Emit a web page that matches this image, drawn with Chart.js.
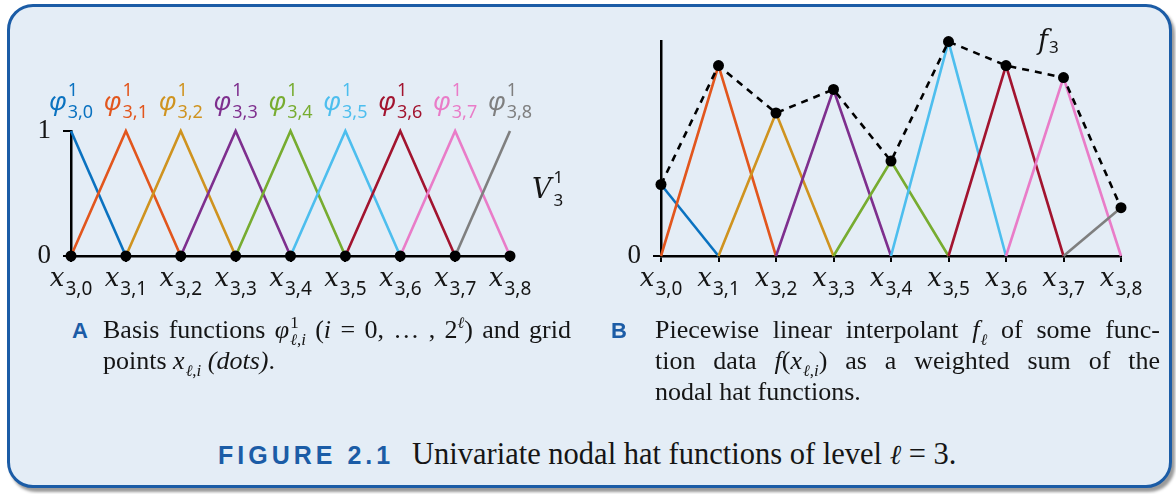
<!DOCTYPE html>
<html><head><meta charset="utf-8">
<script src="https://cdn.jsdelivr.net/npm/chart.js@4.4.1/dist/chart.umd.min.js"></script>
<style>
html,body{margin:0;padding:0;background:#fff;width:1176px;height:494px;overflow:hidden;}
#box{position:absolute;left:7px;top:4px;width:1159px;height:478px;border:3px solid #1b5ca6;border-radius:26px;background:#e4edf6;box-shadow:3px 4px 3px #9a9a9a;}
canvas{position:absolute;top:0}
#cA{left:0}
#cB{left:580px}
.cap{position:absolute;font-family:"Liberation Serif",serif;font-size:26px;color:#151515;}
.line{display:block;height:31px;line-height:31px;text-align:justify;text-align-last:justify}
.last{text-align:left;text-align-last:left}
.lbl{position:absolute;font-family:"Liberation Sans",Arial,sans-serif;font-weight:bold;color:#1b5ca6;font-size:22px;line-height:24px}
.st{display:inline-block;vertical-align:-0.42em;font-size:0.65em;line-height:1.02;text-align:left;text-align-last:left;margin-left:1px}
.st > span{display:block}
.sb{display:inline-block;font-size:0.65em;vertical-align:-0.4em;line-height:1;text-align-last:left;margin-left:1px}
.sp{display:inline-block;font-size:0.65em;vertical-align:0.6em;line-height:1;text-align-last:left}
.ell{font-family:"DejaVu Serif",serif;font-style:italic;font-size:0.95em}
.mi{display:inline-block;text-align-last:left}
#fig{position:absolute;left:218px;top:440px;font-family:"Liberation Sans",Arial,sans-serif;font-weight:bold;color:#1b5ca6;font-size:25px;letter-spacing:4px;line-height:30px}
#figt{position:absolute;left:412px;top:437px;font-family:"Liberation Serif",serif;font-size:30.5px;color:#151515;line-height:34px}
</style></head>
<body>
<div id="box"></div>
<canvas id="cA" width="580" height="315"></canvas>
<canvas id="cB" width="596" height="315"></canvas>

<div class="lbl" style="left:72px;top:319px">A</div>
<div class="cap" style="left:103px;top:314px;width:468px">
  <div class="line">Basis functions <i>φ</i><span class="st"><span>1</span><span><span class="ell">ℓ</span>,<i>i</i></span></span> (<i>i</i> = 0, … , 2<span class="sp"><span class="ell">ℓ</span></span>) and grid</div>
  <div class="line last">points <i>x</i><span class="sb"><span class="ell">ℓ</span>,<i>i</i></span> <i>(dots)</i>.</div>
</div>

<div class="lbl" style="left:611px;top:319px">B</div>
<div class="cap" style="left:655px;top:314px;width:505px">
  <div class="line">Piecewise linear interpolant <i>f</i><span class="sb"><span class="ell">ℓ</span></span> of some func-</div>
  <div class="line">tion data <span class="mi"><i>f</i>(<i>x</i><span class="sb"><span class="ell">ℓ</span>,<i>i</i></span>)</span> as a weighted sum of the</div>
  <div class="line last">nodal hat functions.</div>
</div>

<div id="fig">FIGURE 2.1</div>
<div id="figt">Univariate nodal hat functions of level <span class="ell" style="font-size:0.9em">ℓ</span> = 3.</div>

<script>
// ---------- data ----------
const gridIdx   = [0, 1, 2, 3, 4, 5, 6, 7, 8];
const xTickSubs = ['3,0', '3,1', '3,2', '3,3', '3,4', '3,5', '3,6', '3,7', '3,8'];
const phiSubs   = ['3,0', '3,1', '3,2', '3,3', '3,4', '3,5', '3,6', '3,7', '3,8'];
const peaksA    = [1, 1, 1, 1, 1, 1, 1, 1, 1];
const fValues   = [0.577, 1.537, 1.154, 1.344, 0.766, 1.73, 1.537, 1.44, 0.39];
const yTicksA   = [0, 1];
const yTicksB   = [0];

// ---------- styles ----------
const hatColors = ['#0a72c0', '#e2561d', '#cf931f', '#7e2f8e', '#77ac30', '#4dbeee', '#a2142f', '#e97cc8', '#7f7f7f'];

function hat(i, h) {
  const pts = [];
  if (i > 0) pts.push({x: gridIdx[i - 1], y: 0});
  pts.push({x: gridIdx[i], y: h});
  if (i < gridIdx.length - 1) pts.push({x: gridIdx[i + 1], y: 0});
  return pts;
}

function hatSets(peaks) {
  return peaks.map((h, i) => ({
    type: 'line', data: hat(i, h), borderColor: hatColors[i], borderWidth: 2.6,
    pointRadius: 0, fill: false, tension: 0, clip: false, order: 10 - i
  }));
}

function drawMath(ctx, cx, by, o) {
  ctx.save();
  ctx.font = o.baseFont;
  const bw = ctx.measureText(o.base).width;
  ctx.font = o.smallFont;
  const sw = Math.max(o.sup ? ctx.measureText(o.sup).width : 0, o.sub ? ctx.measureText(o.sub).width : 0);
  const gap = o.gap || 1;
  const x0 = o.left ? cx : cx - (bw + gap + sw) / 2;
  ctx.fillStyle = o.color;
  ctx.textBaseline = 'alphabetic';
  ctx.textAlign = 'left';
  ctx.font = o.baseFont;
  ctx.fillText(o.base, x0, by);
  ctx.font = o.smallFont;
  if (o.sup) ctx.fillText(o.sup, x0 + bw + gap, by - o.supDy);
  if (o.sub) ctx.fillText(o.sub, x0 + bw + gap, by + o.subDy);
  ctx.restore();
}

const xLabelPlugin = {
  id: 'xLabels',
  afterDraw(chart) {
    const ctx = chart.ctx, xs = chart.scales.x, ca = chart.chartArea;
    gridIdx.forEach((v, i) => {
      drawMath(ctx, xs.getPixelForValue(v), ca.bottom + 30, {
        base: 'x', baseFont: 'italic 26px "DejaVu Serif"', smallFont: '19px "Noto Sans"',
        sub: xTickSubs[i], subDy: 9, color: '#151515', gap: 0
      });
    });
  }
};

const phiPlugin = {
  id: 'phiLabels',
  afterDraw(chart) {
    const ctx = chart.ctx, xs = chart.scales.x, ca = chart.chartArea;
    gridIdx.forEach((v, i) => {
      drawMath(ctx, xs.getPixelForValue(v), ca.top - 21, {
        base: 'φ', baseFont: 'italic 26px "Noto Sans"', smallFont: '18px "Noto Sans"',
        sup: '1', supDy: 14, sub: phiSubs[i], subDy: 8, color: hatColors[i], gap: 1
      });
    });
    drawMath(ctx, ca.right + 22, 198, {
      base: 'V', baseFont: 'italic 27px "DejaVu Serif"', smallFont: '17px "Noto Sans"',
      sup: '1', supDy: 15, sub: '3', subDy: 8, color: '#151515', gap: 2, left: true
    });
  }
};

const fPlugin = {
  id: 'fLabel',
  afterDraw(chart) {
    drawMath(chart.ctx, 458, 49, {
      base: 'f', baseFont: 'italic 27px "DejaVu Serif"', smallFont: '17px "Noto Sans"',
      sub: '3', subDy: 4, color: '#151515', gap: 1, left: true
    });
  }
};

function makeOptions(yMax, yTicks, padding, yWidth, xHeight) {
  return {
    responsive: false, animation: false, devicePixelRatio: 1,
    layout: {padding},
    plugins: {legend: {display: false}, tooltip: {enabled: false}},
    scales: {
      x: {
        type: 'linear', min: 0, max: 8,
        afterBuildTicks: s => { s.ticks = gridIdx.map(v => ({value: v})); },
        afterFit: s => { s.height = xHeight; },
        ticks: {display: false},
        grid: {drawOnChartArea: false, drawTicks: true, tickLength: 6, color: '#000', lineWidth: 2},
        border: {display: true, color: '#000', width: 2.5}
      },
      y: {
        type: 'linear', min: 0, max: yMax,
        afterBuildTicks: s => { s.ticks = yTicks.map(v => ({value: v})); },
        afterFit: s => { s.width = yWidth; },
        ticks: {color: '#151515', padding: 12, font: {family: 'Liberation Serif', size: 27}},
        grid: {drawOnChartArea: false, drawTicks: true, tickLength: 8, color: '#000', lineWidth: 2},
        border: {display: true, color: '#000', width: 2.5}
      }
    }
  };
}

new Chart(document.getElementById('cA'), {
  type: 'line',
  data: {
    datasets: [
      {type: 'line', data: gridIdx.map(v => ({x: v, y: 0})), showLine: false, pointRadius: 5.5,
       pointBackgroundColor: '#000', pointBorderWidth: 0, clip: false, order: -1},
      ...hatSets(peaksA)
    ]
  },
  options: makeOptions(1, yTicksA, {left: 0, top: 131, right: 70, bottom: 0}, 71, 59),
  plugins: [xLabelPlugin, phiPlugin]
});

new Chart(document.getElementById('cB'), {
  type: 'line',
  data: {
    datasets: [
      {type: 'line', data: gridIdx.map((v, i) => ({x: v, y: fValues[i]})), borderColor: '#000',
       borderWidth: 2.6, borderDash: [7, 6], pointRadius: 5.5, pointBackgroundColor: '#000',
       pointBorderWidth: 0, tension: 0, fill: false, clip: false, order: -1},
      ...hatSets(fValues)
    ]
  },
  options: makeOptions(1.735, yTicksB, {left: 0, top: 41, right: 55, bottom: 0}, 81, 59),
  plugins: [xLabelPlugin, fPlugin]
});
</script>
</body></html>
